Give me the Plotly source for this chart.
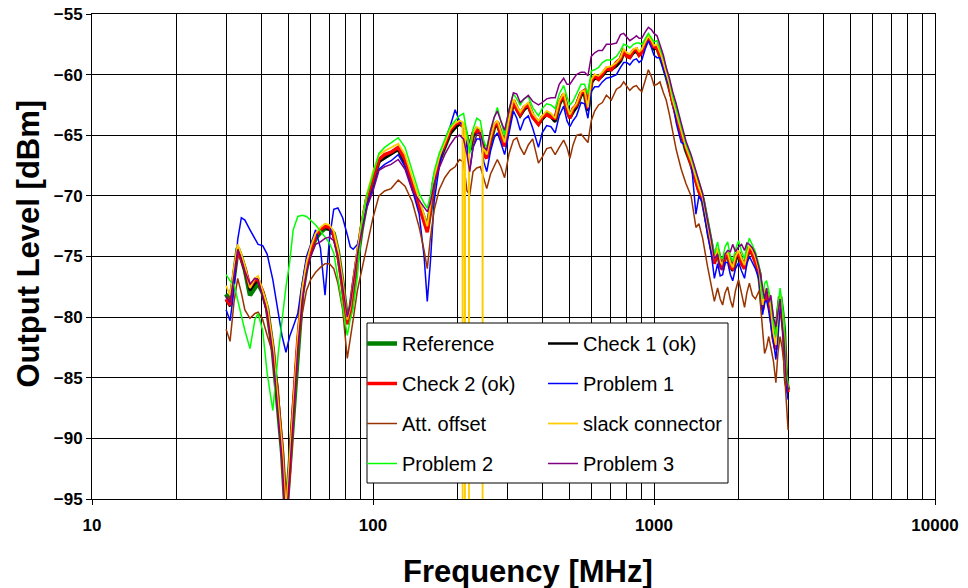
import plotly.graph_objects as go

# Frequency grid (MHz)
FREQ_MHZ = [
    30, 31, 32, 33, 34, 35, 36.5, 38, 39, 40.5,
    42, 44, 46, 47.5, 49, 50.5, 52, 54, 56, 58,
    60, 62.5, 65, 67.5, 70, 72.5, 75, 78, 81, 83,
    85, 88, 91, 95, 100, 105, 110, 116, 123, 130,
    138, 146, 152, 156, 160, 165, 172, 180, 188, 196,
    203, 210, 216, 221, 227, 234, 241, 248, 254, 262,
    270, 277, 285, 294, 305, 316, 325, 334, 345, 357,
    370, 388, 400, 415, 430, 445, 460, 477, 490, 502,
    515, 530, 550, 566, 582, 598, 615, 635, 655, 677,
    705, 735, 760, 780, 800, 820, 845, 866, 885, 905,
    930, 955, 980, 1000, 1025, 1050, 1080, 1105, 1135, 1165,
    1200, 1250, 1300, 1355, 1410, 1445, 1490, 1550, 1600, 1640,
    1684, 1720, 1755, 1790, 1829, 1870, 1906, 1950, 2000, 2050,
    2100, 2140, 2185, 2240, 2295, 2370, 2435, 2475, 2515, 2560,
    2605, 2660, 2715, 2760, 2810, 2855, 2900, 2950, 3000,
]

REFERENCE = [
    -78.1, -78.7, -76.7, -74.3, -75.1, -76.1, -78.2, -77.5, -77.2, -78.0,
    -79.3, -82.7, -87.4, -91.2, -96.5, -92.4, -87.9, -82.1, -78.0, -75.9,
    -74.6, -73.5, -73.0, -72.7, -72.7, -73.1, -74.6, -77.3, -80.4, -79.4,
    -77.6, -74.9, -72.8, -70.4, -68.6, -67.1, -66.8, -66.5, -66.1, -67.2,
    -69.1, -70.7, -71.9, -72.7, -71.2, -68.8, -67.1, -66.0, -64.8, -64.3,
    -64.0, -64.2, -65.5, -66.2, -65.0, -64.5, -64.7, -66.3, -66.8, -65.4,
    -64.3, -64.0, -64.9, -65.8, -63.8, -62.2, -62.8, -63.3, -62.8, -62.5,
    -63.4, -64.0, -63.6, -63.2, -63.4, -63.8, -62.4, -61.7, -62.8, -63.5,
    -63.0, -62.6, -61.6, -61.5, -62.9, -60.6, -60.2, -60.3, -60.0, -59.6,
    -59.5, -59.2, -58.8, -58.1, -58.4, -58.5, -58.1, -58.0, -58.3, -58.1,
    -57.5, -57.0, -57.4, -57.8, -57.7, -58.3, -59.2, -60.0, -61.0, -62.3,
    -63.4, -64.8, -66.2, -67.3, -68.7, -69.5, -70.3, -72.6, -74.2, -75.4,
    -74.5, -75.6, -75.9, -75.0, -74.9, -75.7, -76.1, -75.2, -74.7, -75.4,
    -75.9, -75.0, -74.3, -74.7, -75.3, -76.4, -79.2, -78.0, -77.9, -78.5,
    -79.4, -81.5, -82.5, -80.0, -78.3, -79.5, -81.1, -85.2, -86.0,
]

CHECK_1 = [
    -78.6, -79.1, -76.8, -74.5, -75.3, -76.2, -77.8, -77.2, -77.0, -78.1,
    -79.5, -82.9, -87.6, -91.4, -96.5, -92.2, -87.7, -82.0, -77.9, -75.8,
    -74.5, -73.4, -72.9, -72.6, -72.8, -73.3, -74.7, -77.4, -80.5, -79.3,
    -77.5, -74.9, -72.7, -70.3, -68.7, -67.2, -66.9, -66.6, -66.2, -67.3,
    -69.2, -70.8, -72.0, -72.8, -71.1, -68.7, -67.2, -66.1, -64.9, -64.4,
    -64.1, -64.3, -65.6, -66.3, -65.1, -64.6, -64.8, -66.4, -66.9, -65.5,
    -64.4, -64.1, -65.0, -65.9, -63.9, -62.3, -62.9, -63.4, -62.9, -62.6,
    -63.5, -64.1, -63.7, -63.3, -63.5, -63.9, -62.5, -61.8, -62.9, -63.6,
    -63.1, -62.7, -61.7, -61.6, -63.0, -60.7, -60.3, -60.4, -60.1, -59.7,
    -59.6, -59.3, -58.9, -58.2, -58.5, -58.6, -58.2, -58.1, -58.4, -58.2,
    -57.6, -57.1, -57.5, -57.9, -57.8, -58.4, -59.3, -60.1, -61.1, -62.4,
    -63.5, -64.9, -66.3, -67.4, -68.8, -69.6, -70.4, -72.7, -74.3, -75.5,
    -74.6, -75.7, -76.0, -75.1, -75.0, -75.8, -76.2, -75.3, -74.8, -75.5,
    -76.0, -75.1, -74.4, -74.8, -75.4, -76.5, -79.3, -78.1, -78.0, -78.6,
    -79.5, -81.6, -82.6, -80.1, -78.4, -79.6, -81.2, -85.3, -86.1,
]

CHECK_2 = [
    -78.5, -79.0, -76.5, -74.4, -75.2, -76.0, -77.5, -76.9, -76.9, -77.9,
    -79.4, -82.6, -87.2, -91.0, -96.5, -92.6, -87.6, -81.9, -78.1, -75.7,
    -74.4, -73.3, -72.8, -72.5, -72.6, -73.2, -74.8, -77.5, -80.6, -79.5,
    -77.4, -74.8, -72.6, -70.2, -68.5, -67.0, -66.6, -66.4, -66.0, -67.0,
    -69.0, -70.8, -72.2, -73.0, -71.0, -68.6, -67.0, -65.8, -64.6, -64.1,
    -63.9, -64.3, -65.7, -66.0, -64.8, -64.6, -64.8, -66.6, -66.9, -65.3,
    -64.2, -63.9, -65.0, -65.9, -63.7, -62.1, -62.9, -63.3, -62.7, -62.5,
    -63.5, -64.1, -63.5, -63.3, -63.5, -63.6, -62.3, -61.6, -62.9, -63.6,
    -62.8, -62.5, -61.5, -61.3, -62.8, -60.5, -60.1, -60.4, -59.9, -59.5,
    -59.6, -59.0, -58.7, -58.0, -58.5, -58.6, -58.0, -57.9, -58.4, -58.2,
    -57.4, -56.9, -57.5, -57.7, -57.8, -58.4, -59.1, -59.9, -61.1, -62.2,
    -63.5, -64.9, -66.0, -67.4, -68.9, -69.6, -70.4, -72.4, -74.0, -75.6,
    -74.4, -75.5, -76.1, -74.9, -74.8, -75.9, -76.0, -75.0, -74.6, -75.6,
    -76.0, -74.9, -74.2, -74.8, -75.5, -76.3, -79.4, -77.8, -78.2, -78.7,
    -79.6, -81.8, -82.7, -79.8, -78.4, -79.8, -81.4, -85.4, -86.2,
]

PROBLEM_1 = [
    -79.4, -80.3, -77.8, -73.6, -71.8, -72.0, -72.8, -73.6, -74.0, -74.1,
    -74.8, -76.9, -79.7, -81.6, -82.9, -81.6, -80.8, -79.7, -77.2, -75.0,
    -74.0, -72.8, -74.3, -78.2, -73.5, -71.1, -71.0, -71.8, -73.2, -74.2,
    -74.4, -74.0, -72.7, -70.8, -69.4, -67.8, -67.4, -67.1, -66.6, -67.6,
    -69.5, -71.5, -75.0, -78.7, -75.5, -70.5, -67.6, -65.5, -64.3, -62.9,
    -63.8, -64.3, -66.0, -67.8, -66.0, -65.3, -65.3, -67.2, -68.0, -66.3,
    -65.2, -64.8, -65.6, -66.6, -64.8, -63.0, -63.6, -64.6, -63.7, -63.4,
    -64.4, -66.0, -64.8, -64.2, -64.3, -64.8, -63.4, -62.6, -63.8, -64.3,
    -63.8, -63.4, -62.3, -62.4, -63.6, -61.4, -61.0, -61.0, -60.6, -60.3,
    -60.2, -60.0, -59.4, -59.0, -59.0, -59.2, -58.8, -58.7, -59.0, -58.8,
    -57.9, -57.2, -57.8, -58.4, -58.6, -58.6, -59.6, -60.2, -61.0, -62.0,
    -64.0, -65.6, -65.8, -67.0, -71.5, -70.0, -70.6, -73.2, -74.8, -76.8,
    -75.6, -76.6, -76.5, -75.5, -75.5, -76.5, -77.0, -76.0, -75.5, -76.2,
    -76.8, -75.6, -75.0, -75.5, -76.0, -77.0, -79.8, -78.8, -78.6, -79.5,
    -80.5, -82.0, -83.5, -81.0, -79.0, -80.0, -82.0, -85.5, -86.8,
]

ATT_OFFSET = [
    -81.0, -82.0, -78.8, -76.8, -78.0, -79.4, -80.1, -79.7, -79.6, -80.2,
    -81.5, -83.0, -85.8, -90.7, -96.5, -92.0, -88.0, -83.0, -79.7, -77.8,
    -76.9, -76.3, -75.9, -75.6, -75.6, -76.0, -77.2, -79.4, -83.4, -81.9,
    -80.2, -77.8, -76.1, -74.2, -71.8, -70.0, -69.6, -69.4, -68.7, -69.2,
    -70.5, -72.6, -74.5, -76.0, -73.5, -71.2, -69.5, -68.5, -67.9, -67.6,
    -67.0, -67.2, -69.6, -69.9, -68.0, -67.7, -67.6, -68.6, -69.4, -68.2,
    -67.5, -67.0, -67.6, -68.5, -66.5, -65.4, -65.2, -66.0, -66.6, -65.8,
    -65.3, -67.3, -66.8, -66.1, -66.0, -66.6, -66.0, -65.4, -66.0, -66.9,
    -65.8, -65.0, -64.9, -65.3, -65.6, -63.8, -63.0, -62.5, -62.3, -61.7,
    -62.1, -61.2, -61.0, -60.6, -61.0, -61.3, -61.0, -60.9, -61.2, -61.4,
    -60.5, -59.6, -60.2, -60.9, -60.8, -60.6, -61.5, -62.1, -63.3, -64.8,
    -66.2, -67.8, -69.0, -70.0, -72.6, -72.3, -73.5, -75.8, -77.5, -78.7,
    -77.6, -78.5, -79.0, -78.0, -77.5, -78.6, -79.2, -77.8, -76.9, -78.0,
    -79.2, -78.0, -77.2, -78.2, -78.5, -77.8, -80.8, -83.0, -82.5, -81.6,
    -82.5, -83.6, -85.4, -83.0, -81.6, -82.5, -83.8, -86.5, -89.3,
]

SLACK_CONNECTOR = [
    -77.4, -78.2, -76.0, -74.0, -74.8, -75.8, -77.6, -76.8, -76.6, -77.8,
    -79.0, -82.3, -87.0, -90.8, -96.0, -92.0, -87.4, -81.6, -77.6, -75.5,
    -74.2, -73.1, -72.6, -72.3, -72.4, -72.9, -74.4, -77.0, -80.2, -79.2,
    -77.2, -74.5, -72.3, -69.9, -68.0, -66.6, -66.3, -66.0, -65.7, -66.6,
    -68.6, -70.3, -71.6, -72.5, -70.8, -68.4, -66.8, -65.6, -64.5, -64.0,
    -63.8, -64.0, -65.3, -66.0, -64.8, -64.3, -64.5, -66.1, -66.6, -65.2,
    -64.1, -63.8, -64.7, -65.6, -63.6, -62.0, -62.6, -63.1, -62.6, -62.3,
    -63.2, -63.8, -63.4, -63.0, -63.2, -63.6, -62.2, -61.5, -62.6, -63.3,
    -62.8, -62.4, -61.4, -61.3, -62.7, -60.4, -60.0, -60.1, -59.8, -59.4,
    -59.3, -59.0, -58.6, -57.9, -58.2, -58.3, -57.9, -57.8, -58.1, -57.9,
    -57.3, -56.8, -57.2, -57.6, -57.5, -58.1, -59.0, -59.8, -60.8, -62.1,
    -63.2, -64.6, -66.0, -67.1, -68.5, -69.3, -70.1, -72.4, -74.0, -75.2,
    -74.3, -75.4, -75.7, -74.8, -74.7, -75.5, -75.9, -75.0, -74.5, -75.2,
    -75.7, -74.8, -74.1, -74.5, -75.1, -76.2, -79.0, -77.8, -77.7, -78.3,
    -79.2, -81.3, -82.3, -79.8, -78.1, -79.3, -80.9, -85.0, -85.8,
]

# Short drop-outs of the slack connector measurement
SLACK_SPIKE_FREQ = [208.2, 208.5, 208.8, 212.2, 212.5, 212.8, 219.3, 219.6, 219.9, 245.2, 245.5, 245.8]
SLACK_SPIKE_LEVEL = [-63.9, -100.0, -64.0, -64.4, -100.0, -64.6, -65.8, -100.0, -65.9, -65.7, -100.0, -65.8]

PROBLEM_2 = [
    -76.5, -77.0, -77.3, -78.6, -80.0, -81.1, -82.6, -80.2, -79.7, -81.1,
    -84.6, -87.7, -83.0, -80.0, -77.5, -75.5, -72.8, -71.7, -71.6, -71.7,
    -72.0, -72.4, -72.9, -73.4, -73.9, -74.7, -76.9, -79.4, -81.5, -80.2,
    -79.3, -76.6, -72.5, -70.0, -68.2, -66.5, -66.0, -65.6, -65.2, -66.0,
    -68.0, -69.8, -70.6, -71.0, -70.0, -68.0, -66.5, -65.3, -64.3, -63.8,
    -63.4, -63.2, -64.8, -66.5, -64.5, -63.6, -63.8, -65.5, -66.0, -64.6,
    -63.5, -62.7, -63.8, -65.0, -62.8, -61.6, -62.0, -62.5, -62.0, -61.8,
    -62.7, -63.4, -62.8, -62.4, -62.5, -62.8, -61.6, -60.9, -61.8, -62.5,
    -62.2, -61.6, -60.8, -60.8, -61.6, -59.7, -59.6, -59.4, -59.0, -58.8,
    -58.8, -58.5, -58.0, -57.5, -57.6, -57.8, -57.5, -57.4, -57.4, -57.5,
    -57.0, -56.6, -57.0, -57.3, -57.2, -57.8, -58.6, -59.4, -60.4, -61.7,
    -62.8, -64.3, -65.7, -66.8, -68.0, -68.9, -69.8, -72.0, -73.5, -74.8,
    -73.8, -75.0, -75.2, -74.2, -73.8, -75.0, -75.4, -74.4, -73.7, -74.6,
    -75.2, -74.2, -73.5, -74.0, -74.6, -75.8, -78.5, -77.2, -77.0, -77.8,
    -78.6, -80.5, -81.6, -79.2, -77.6, -78.8, -80.3, -84.5, -85.5,
]

PROBLEM_3 = [
    -78.3, -78.8, -76.6, -74.4, -75.2, -76.2, -77.3, -76.8, -76.9, -78.2,
    -79.6, -83.0, -87.8, -91.8, -97.5, -93.0, -88.3, -82.6, -78.6, -76.3,
    -75.0, -74.0, -73.8, -73.5, -73.4, -73.7, -74.9, -77.5, -80.0, -79.0,
    -77.2, -74.8, -73.0, -71.0, -69.6, -67.9, -67.6, -67.4, -67.0, -67.8,
    -69.6, -70.4, -71.0, -71.3, -70.6, -69.0, -67.7, -66.6, -65.8, -65.2,
    -65.0, -65.3, -66.6, -68.0, -66.0, -64.9, -64.8, -66.0, -66.2, -64.6,
    -63.5, -63.0, -63.8, -64.6, -62.9, -61.5, -61.6, -62.3, -62.0, -61.7,
    -62.2, -62.5, -62.3, -62.0, -61.9, -61.9, -60.8, -60.3, -60.8, -60.8,
    -60.4, -60.0, -59.8, -59.8, -60.1, -58.5, -58.2, -58.0, -58.0, -57.5,
    -57.5, -57.4, -56.7, -56.6, -56.9, -57.2, -57.0, -56.8, -57.0, -57.0,
    -56.5, -56.1, -56.3, -56.6, -56.8, -57.5, -58.4, -59.4, -60.3, -61.4,
    -62.4, -64.0, -65.5, -66.6, -67.9, -68.8, -69.8, -72.0, -73.6, -75.2,
    -74.8, -76.0, -76.0, -74.8, -74.5, -74.6, -74.0, -74.6, -74.2, -74.0,
    -74.5, -73.9, -74.0, -74.3, -74.8, -76.0, -77.8, -78.5, -77.6, -78.8,
    -78.2, -80.0, -80.8, -79.5, -78.5, -80.5, -82.0, -85.0, -86.0,
]

Y_TICKS = [-95, -90, -85, -80, -75, -70, -65, -60, -55]

for arr in (REFERENCE, CHECK_1, CHECK_2, PROBLEM_1, ATT_OFFSET, SLACK_CONNECTOR, PROBLEM_2, PROBLEM_3):
    assert len(arr) == len(FREQ_MHZ), len(arr)

# slack connector: merge the base sweep with its drop-outs
slack_pts = sorted(list(zip(FREQ_MHZ, SLACK_CONNECTOR)) + list(zip(SLACK_SPIKE_FREQ, SLACK_SPIKE_LEVEL)))
slack_f = [p[0] for p in slack_pts]
slack_v = [p[1] for p in slack_pts]

series = [
    ("Reference", FREQ_MHZ, REFERENCE, "#008000", 4.5, "legend"),
    ("Check 1 (ok)", FREQ_MHZ, CHECK_1, "#000000", 2.5, "legend2"),
    ("Check 2 (ok)", FREQ_MHZ, CHECK_2, "#ff0000", 3.5, "legend"),
    ("Problem 1", FREQ_MHZ, PROBLEM_1, "#0000ff", 1.5, "legend2"),
    ("Att. offset", FREQ_MHZ, ATT_OFFSET, "#993300", 1.5, "legend"),
    ("slack connector", slack_f, slack_v, "#ffcc00", 1.8, "legend2"),
    ("Problem 2", FREQ_MHZ, PROBLEM_2, "#00ff00", 1.5, "legend"),
    ("Problem 3", FREQ_MHZ, PROBLEM_3, "#800080", 1.5, "legend2"),
]

fig = go.Figure()
for i, (name, xs, ys, color, width, leg) in enumerate(series):
    fig.add_trace(go.Scatter(
        x=xs, y=ys, mode="lines", name=name,
        line=dict(color=color, width=width),
        legend=leg, legendgroup="g%d" % i,
        hoverinfo="skip",
    ))

FONT = "Liberation Sans, Arial, sans-serif"
PW, PH = 843.0, 485.0
L, T = 92.0, 14.0

def px(x):
    return (x - L) / PW

def py(y):
    return (T + PH - y) / PH

leg_common = dict(
    xanchor="left", yanchor="top",
    bgcolor="rgba(0,0,0,0)", borderwidth=0,
    font=dict(family=FONT, size=20, color="black"),
    tracegroupgap=11, traceorder="grouped", itemwidth=30,
)

title_font = dict(family=FONT, size=31, color="black", weight="bold")

fig.update_layout(
    width=968, height=588,
    margin=dict(l=92, r=33, t=14, b=89, autoexpand=False),
    paper_bgcolor="white", plot_bgcolor="white",
    font=dict(family=FONT, color="black"),
    showlegend=True,
    legend=dict(x=px(362), y=py(324), **leg_common),
    legend2=dict(x=px(543), y=py(324), **leg_common),
    shapes=[dict(
        type="rect", xref="paper", yref="paper",
        x0=px(367), x1=px(728), y0=py(483), y1=py(323),
        line=dict(color="black", width=1), fillcolor="white", layer="above",
    )],
    annotations=[
        dict(text="Frequency [MHz]", xref="paper", yref="paper",
             x=px(527.5), y=py(571), xanchor="center", yanchor="middle",
             showarrow=False, font=title_font),
        dict(text="Output Level [dBm]", xref="paper", yref="paper",
             x=px(28), y=py(243.5), xanchor="center", yanchor="middle",
             textangle=-90, showarrow=False, font=title_font),
    ],
)

fig.update_xaxes(
    type="log", range=[1, 4], dtick=1, tickformat="d",
    showgrid=True, gridcolor="black", gridwidth=1,
    minor=dict(dtick="D1", showgrid=True, gridcolor="black", gridwidth=1, ticks=""),
    ticks="outside", ticklen=5, tickcolor="black",
    showline=True, linecolor="black", linewidth=1, mirror=True,
    tickfont=dict(family=FONT, size=17, color="black", weight="bold"),
    ticklabelstandoff=6, automargin=False,
    zeroline=False,
)
fig.update_yaxes(
    range=[-95, -55], tickvals=Y_TICKS,
    showgrid=True, gridcolor="black", gridwidth=1,
    ticks="outside", ticklen=5, tickcolor="black",
    showline=True, linecolor="black", linewidth=1, mirror=True,
    tickfont=dict(family=FONT, size=17, color="black", weight="bold"),
    ticklabelstandoff=0, automargin=False,
    zeroline=False,
)

fig.write_html("out.html")
